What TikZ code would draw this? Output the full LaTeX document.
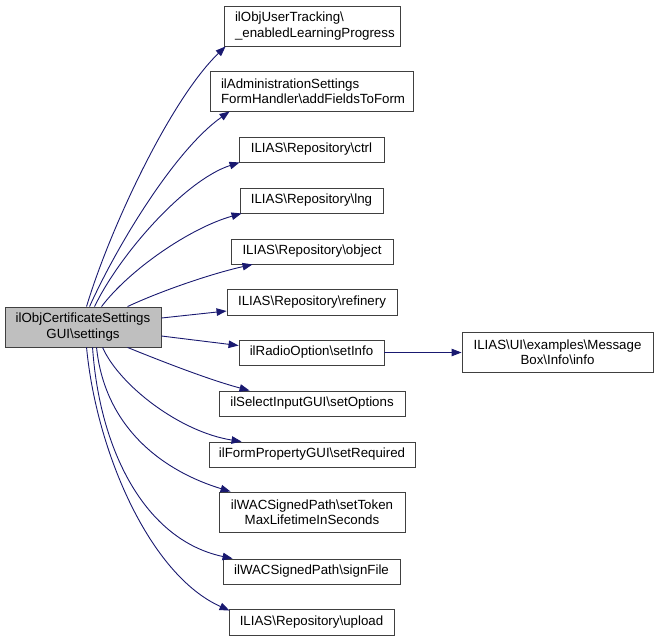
\documentclass[tikz,border=0pt]{standalone}
\usepackage{fontspec}
\setmainfont{Liberation Sans}
\usetikzlibrary{arrows.meta,calc}
\definecolor{edgeblue}{HTML}{191970}
\definecolor{boxline}{HTML}{404040}
\definecolor{mainfill}{HTML}{BFBFBF}
\tikzset{
  box/.style={draw=boxline,line width=0.9pt,fill=white,inner sep=0pt,align=center,
    font=\fontsize{13.3}{15.5}\selectfont},
  lbox/.style={box,align=left,inner xsep=11pt},
  call/.style={draw=edgeblue,line width=0.9pt,-{Triangle[length=10pt,width=7.5pt]}},
}
\begin{document}
\begin{tikzpicture}[x=1pt,y=-1pt]
\useasboundingbox (0,0) rectangle (659,641);
\node[box,fill=mainfill,minimum width=156pt,minimum height=40pt] (main) at (83,327) {ilObjCertificateSettings\\GUI\textbackslash settings};
\node[lbox,text width=154pt,minimum height=40pt] (n1) at (312,26) {ilObjUserTracking\textbackslash\\\_enabledLearningProgress};
\node[lbox,text width=181pt,minimum height=40pt] (n2) at (311.5,91) {ilAdministrationSettings\\FormHandler\textbackslash addFieldsToForm};
\node[box,minimum width=145pt,minimum height=25pt] (n3) at (311.5,149.5) {ILIAS\textbackslash Repository\textbackslash ctrl};
\node[box,minimum width=143pt,minimum height=25pt] (n4) at (311.5,200.5) {ILIAS\textbackslash Repository\textbackslash lng};
\node[box,minimum width=162pt,minimum height=25pt] (n5) at (312,251.5) {ILIAS\textbackslash Repository\textbackslash object};
\node[box,minimum width=170pt,minimum height=26pt] (n6) at (312,302) {ILIAS\textbackslash Repository\textbackslash refinery};
\node[box,minimum width=145pt,minimum height=25pt] (n8) at (311.5,352.5) {ilRadioOption\textbackslash setInfo};
\node[box,minimum width=186pt,minimum height=25pt] (n9) at (312,403.5) {ilSelectInputGUI\textbackslash setOptions};
\node[box,minimum width=206pt,minimum height=25pt] (n10) at (312,454.5) {ilFormPropertyGUI\textbackslash setRequired};
\node[box,minimum width=186pt,minimum height=40pt] (n11) at (312,512) {ilWACSignedPath\textbackslash setToken\\MaxLifetimeInSeconds};
\node[box,minimum width=177pt,minimum height=25pt] (n12) at (311.5,571.5) {ilWACSignedPath\textbackslash signFile};
\node[box,minimum width=165pt,minimum height=26pt] (n13) at (311.5,622) {ILIAS\textbackslash Repository\textbackslash upload};
\node[box,minimum width=191pt,minimum height=40pt] (n14) at (557.5,352) {ILIAS\textbackslash UI\textbackslash examples\textbackslash Message\\Box\textbackslash Info\textbackslash info};
% edges
\draw[call] ($(main.north west)+(82,0)$) .. controls ($(main.north west)+(105,-77)$) and (170,100) .. ($(n1.south west)+(2,0)$);
\draw[call] ($(main.north west)+(85,0)$) .. controls ($(main.north west)+(113,-62)$) and (175,150) .. ($(n2.south west)+(20,0)$);
\draw[call] ($(main.north west)+(90,0)$) .. controls ($(main.north west)+(115,-52)$) and (185,180) .. ($(n3.south west)+(1,0)$);
\draw[call] ($(main.north west)+(97,0)$) .. controls ($(main.north west)+(125,-37)$) and (190,228) .. ($(n4.south west)+(2,0)$);
\draw[call] ($(main.north west)+(123,0)$) .. controls ($(main.north west)+(155,-15)$) and (210,274) .. ($(n5.south west)+(22,0)$);
\draw[call] ($(main.east)+(0,-9)$) -- ($(n6.west)+(0,9)$);
\draw[call] ($(main.east)+(0,9)$) -- ($(n8.west)+(0,-7)$);
\draw[call] ($(main.south west)+(123,0)$) .. controls ($(main.south west)+(160,15)$) and (210,380) .. ($(n9.north west)+(31,0)$);
\draw[call] ($(main.south west)+(98,0)$) .. controls ($(main.south west)+(115,38)$) and (180,432) .. ($(n10.north west)+(33,0)$);
\draw[call] ($(main.south west)+(92,0)$) .. controls ($(main.south west)+(100,78)$) and (160,470) .. ($(n11.north west)+(12,0)$);
\draw[call] ($(main.south west)+(88,0)$) .. controls ($(main.south west)+(95,103)$) and (145,540) .. ($(n12.north west)+(10,0)$);
\draw[call] ($(main.south west)+(82,0)$) .. controls ($(main.south west)+(92,105)$) and (150,575) .. ($(n13.north west)+(1,2)$);
\draw[call] (n8.east) -- (n14.west|-n8.east);
\end{tikzpicture}
\end{document}
